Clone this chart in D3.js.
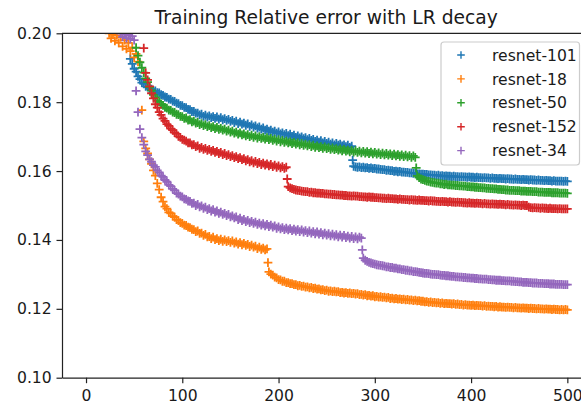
<!DOCTYPE html>
<html>
<head>
<meta charset="utf-8">
<script src="https://cdn.jsdelivr.net/npm/d3@7"></script>
<style>
html,body{margin:0;padding:0;background:#fff;}
svg{display:block;font-family:"DejaVu Sans",sans-serif;}
</style>
</head>
<body>
<svg id="chart" width="581" height="405"></svg>
<script>
// ---------- DATA ----------
// epochs 24, 26, ..., 500 (one logged value every 2 epochs), 239 entries
const epochs = d3.range(24, 501, 2);

const resnet101 = [
  null,null,null,null,null,null,null,null,null,null,null,.1926,.1911,.1897,.1889,.1875,.1867,.1857,.1853,.1846,
  .1844,.1839,.1838,.1833,.1833,.1828,.1827,.1822,.1820,.1815,.1814,.1809,.1808,.1803,.1802,.1797,.1796,.1791,.1790,.1785,
  .1784,.1779,.1778,.1773,.1773,.1768,.1768,.1763,.1765,.1759,.1762,.1757,.1760,.1755,.1758,.1753,.1757,.1751,.1755,.1749,
  .1752,.1747,.1750,.1744,.1747,.1741,.1745,.1738,.1742,.1736,.1739,.1733,.1737,.1730,.1734,.1728,.1731,.1725,.1728,.1722,
  .1725,.1719,.1722,.1716,.1719,.1713,.1716,.1710,.1714,.1708,.1711,.1706,.1709,.1703,.1707,.1701,.1704,.1698,.1702,.1696,
  .1699,.1694,.1697,.1691,.1695,.1689,.1692,.1686,.1690,.1684,.1688,.1682,.1686,.1680,.1684,.1678,.1682,.1676,.1680,.1675,
  .1678,.1673,.1676,.1671,.1675,.1669,.1672,.1614,.1612,.1611,.1612,.1610,.1611,.1609,.1610,.1608,.1609,.1607,.1608,.1606,
  .1606,.1605,.1604,.1604,.1602,.1603,.1601,.1601,.1599,.1600,.1598,.1599,.1597,.1597,.1596,.1596,.1595,.1595,.1593,.1594,
  .1592,.1592,.1591,.1591,.1590,.1590,.1589,.1589,.1588,.1588,.1587,.1588,.1586,.1587,.1585,.1586,.1585,.1585,.1584,.1585,
  .1584,.1584,.1583,.1584,.1583,.1583,.1582,.1583,.1582,.1582,.1581,.1582,.1581,.1581,.1580,.1581,.1580,.1580,.1579,.1580,
  .1579,.1579,.1578,.1579,.1578,.1578,.1577,.1578,.1577,.1577,.1576,.1577,.1576,.1576,.1575,.1576,.1575,.1575,.1574,.1575,
  .1574,.1574,.1573,.1574,.1573,.1573,.1572,.1573,.1572,.1572,.1571,.1572,.1571,.1571,.1571,.1571,.1570,.1571,.1570
];

const resnet18 = [
  .2000,.1985,.1998,.1978,.1994,.1972,.1988,.1962,.1980,.1955,.1972,.1948,.1958,.1930,.1940,.1918,null,.1777,.1686,.1666,
  .1651,.1634,.1621,.1602,.1587,.1564,.1546,.1524,.1511,.1497,.1491,.1480,.1477,.1469,.1466,.1459,.1456,.1450,.1448,.1443,
  .1442,.1437,.1436,.1431,.1430,.1424,.1426,.1419,.1420,.1413,.1416,.1409,.1410,.1404,.1408,.1401,.1404,.1398,.1402,.1396,
  .1400,.1395,.1398,.1393,.1397,.1391,.1394,.1388,.1392,.1386,.1390,.1384,.1387,.1381,.1385,.1379,.1382,.1375,.1379,.1373,
  .1376,.1371,.1374,.1307,.1301,.1298,.1292,.1290,.1285,.1284,.1280,.1280,.1276,.1276,.1273,.1273,.1270,.1270,.1267,.1268,
  .1265,.1266,.1263,.1264,.1261,.1262,.1259,.1260,.1257,.1258,.1255,.1256,.1253,.1254,.1251,.1252,.1250,.1251,.1249,.1250,
  .1247,.1248,.1246,.1247,.1245,.1246,.1244,.1245,.1243,.1244,.1241,.1242,.1240,.1241,.1238,.1239,.1237,.1238,.1235,.1236,
  .1234,.1235,.1233,.1234,.1232,.1233,.1230,.1231,.1229,.1230,.1228,.1229,.1227,.1228,.1226,.1227,.1225,.1226,.1224,.1225,
  .1223,.1224,.1222,.1222,.1220,.1221,.1219,.1220,.1218,.1219,.1217,.1218,.1216,.1217,.1215,.1216,.1215,.1215,.1214,.1215,
  .1213,.1214,.1212,.1213,.1211,.1212,.1211,.1211,.1210,.1211,.1209,.1210,.1209,.1209,.1208,.1209,.1207,.1208,.1207,.1207,
  .1206,.1207,.1205,.1206,.1205,.1205,.1204,.1205,.1204,.1204,.1203,.1204,.1203,.1203,.1202,.1203,.1202,.1202,.1201,.1202,
  .1201,.1201,.1200,.1201,.1200,.1200,.1199,.1200,.1199,.1199,.1198,.1199,.1198,.1198,.1197,.1198,.1197,.1198,.1197
];

const resnet50 = [
  null,null,null,null,null,null,null,null,null,null,null,null,null,null,.1958,.1935,.1916,.1900,.1886,.1869,
  .1858,.1844,.1834,.1821,.1814,.1805,.1801,.1794,.1791,.1785,.1783,.1777,.1776,.1771,.1770,.1765,.1764,.1759,.1758,.1753,
  .1754,.1748,.1749,.1743,.1745,.1739,.1741,.1735,.1738,.1732,.1735,.1729,.1732,.1726,.1729,.1723,.1727,.1721,.1724,.1719,
  .1722,.1716,.1719,.1713,.1716,.1710,.1713,.1707,.1711,.1705,.1708,.1702,.1706,.1700,.1704,.1698,.1702,.1696,.1700,.1695,
  .1698,.1693,.1697,.1691,.1695,.1689,.1693,.1687,.1691,.1685,.1689,.1683,.1687,.1682,.1685,.1680,.1683,.1678,.1682,.1676,
  .1680,.1675,.1678,.1673,.1677,.1671,.1675,.1669,.1673,.1668,.1671,.1666,.1670,.1665,.1668,.1663,.1667,.1662,.1665,.1661,
  .1664,.1659,.1663,.1658,.1661,.1656,.1660,.1655,.1659,.1654,.1658,.1653,.1657,.1652,.1656,.1651,.1655,.1650,.1654,.1649,
  .1653,.1648,.1652,.1647,.1651,.1646,.1650,.1645,.1649,.1644,.1648,.1643,.1647,.1642,.1646,.1641,.1645,.1640,.1644,.1640,
  .1586,.1581,.1577,.1575,.1573,.1571,.1570,.1568,.1567,.1566,.1565,.1565,.1563,.1563,.1561,.1562,.1560,.1560,.1559,.1559,
  .1558,.1558,.1557,.1557,.1556,.1556,.1555,.1555,.1554,.1554,.1553,.1553,.1552,.1552,.1551,.1551,.1550,.1550,.1549,.1549,
  .1548,.1548,.1547,.1547,.1546,.1546,.1545,.1545,.1544,.1544,.1544,.1543,.1543,.1543,.1542,.1542,.1542,.1541,.1541,.1541,
  .1540,.1540,.1540,.1539,.1539,.1539,.1538,.1538,.1538,.1538,.1537,.1537,.1537,.1537,.1536,.1536,.1536,.1536,.1535
];

const resnet152 = [
  null,null,null,null,null,null,null,null,null,null,null,null,null,null,null,null,null,null,.1957,.1885,
  .1865,.1846,.1826,.1811,.1794,.1784,.1771,.1763,.1752,.1746,.1736,.1731,.1723,.1719,.1712,.1708,.1701,.1698,.1692,.1690,
  .1687,.1682,.1682,.1676,.1677,.1671,.1673,.1666,.1669,.1663,.1666,.1660,.1663,.1657,.1660,.1654,.1657,.1651,.1654,.1648,
  .1651,.1645,.1648,.1642,.1645,.1639,.1642,.1636,.1639,.1633,.1636,.1630,.1633,.1627,.1630,.1624,.1628,.1622,.1625,.1619,
  .1623,.1617,.1621,.1615,.1619,.1613,.1617,.1611,.1615,.1609,.1613,.1608,.1611,.1555,.1551,.1549,.1547,.1545,.1544,.1543,
  .1542,.1541,.1540,.1540,.1538,.1539,.1537,.1537,.1536,.1536,.1535,.1535,.1534,.1534,.1533,.1533,.1532,.1532,.1531,.1531,
  .1530,.1530,.1529,.1529,.1528,.1528,.1527,.1528,.1527,.1527,.1526,.1526,.1525,.1525,.1524,.1525,.1524,.1524,.1523,.1523,
  .1522,.1522,.1521,.1521,.1520,.1521,.1520,.1520,.1519,.1519,.1518,.1519,.1518,.1518,.1517,.1517,.1516,.1517,.1516,.1516,
  .1515,.1516,.1515,.1515,.1514,.1514,.1513,.1514,.1513,.1513,.1512,.1512,.1511,.1512,.1511,.1511,.1510,.1511,.1510,.1510,
  .1509,.1510,.1509,.1509,.1508,.1508,.1507,.1508,.1507,.1507,.1506,.1507,.1506,.1506,.1505,.1506,.1505,.1505,.1504,.1505,
  .1504,.1504,.1503,.1504,.1503,.1503,.1502,.1503,.1502,.1502,.1501,.1502,.1501,.1501,.1500,.1501,.1500,.1500,.1495,.1494,
  .1493,.1494,.1493,.1493,.1492,.1493,.1492,.1492,.1491,.1492,.1491,.1491,.1491,.1490,.1491,.1490,.1490,.1490,.1490
];

const resnet34 = [
  null,null,null,null,null,null,.1999,.1990,.1997,.1986,.1995,.1984,.1992,.1980,.1833,.1771,.1722,.1697,.1677,.1657,
  .1646,.1634,.1627,.1617,.1612,.1602,.1596,.1587,.1583,.1574,.1569,.1560,.1556,.1548,.1544,.1536,.1533,.1527,.1525,.1519,
  .1518,.1513,.1512,.1506,.1507,.1500,.1503,.1496,.1499,.1492,.1495,.1488,.1491,.1484,.1488,.1481,.1484,.1477,.1481,.1474,
  .1477,.1471,.1474,.1467,.1470,.1464,.1467,.1459,.1463,.1456,.1460,.1453,.1457,.1450,.1454,.1448,.1452,.1445,.1449,.1443,
  .1447,.1441,.1445,.1439,.1443,.1437,.1441,.1434,.1438,.1432,.1436,.1430,.1434,.1429,.1433,.1427,.1431,.1426,.1430,.1424,
  .1429,.1423,.1427,.1421,.1426,.1420,.1424,.1418,.1423,.1417,.1421,.1415,.1420,.1414,.1418,.1412,.1417,.1411,.1415,.1409,
  .1414,.1408,.1413,.1407,.1411,.1405,.1410,.1404,.1409,.1403,.1408,.1405,.1347,.1341,.1338,.1335,.1333,.1331,.1330,.1328,
  .1327,.1326,.1325,.1324,.1322,.1322,.1320,.1320,.1318,.1318,.1316,.1316,.1314,.1314,.1312,.1312,.1310,.1310,.1308,.1308,
  .1307,.1306,.1305,.1304,.1303,.1303,.1302,.1301,.1300,.1300,.1299,.1299,.1298,.1297,.1297,.1296,.1296,.1295,.1294,.1294,
  .1293,.1293,.1292,.1292,.1291,.1291,.1290,.1290,.1289,.1289,.1288,.1288,.1287,.1287,.1286,.1286,.1286,.1285,.1285,.1284,
  .1284,.1283,.1283,.1283,.1282,.1282,.1281,.1281,.1281,.1280,.1280,.1279,.1279,.1278,.1278,.1277,.1277,.1277,.1276,.1276,
  .1275,.1275,.1275,.1274,.1274,.1274,.1273,.1273,.1273,.1272,.1272,.1272,.1271,.1271,.1271,.1271,.1270,.1270,.1270
];

// single values logged at the learning-rate drop of each model
const dropSeries = ["resnet-18", "resnet-152", "resnet-101", "resnet-34", "resnet-50"];
const dropEpochs = [189, 209, 277, 287, 343];
const dropValues = [.1334, .1577, .1632, .1371, .1609];

const seriesNames = ["resnet-101", "resnet-18", "resnet-50", "resnet-152", "resnet-34"];
const seriesValues = [resnet101, resnet18, resnet50, resnet152, resnet34];
const seriesColors = ["#1f77b4", "#ff7f0e", "#2ca02c", "#d62728", "#9467bd"];
const xTicks = [0, 100, 200, 300, 400, 500];
const yTicks = [0.10, 0.12, 0.14, 0.16, 0.18, 0.20];
const titleText = "Training Relative error with LR decay";

// ---------- DRAWING ----------
(function () {
  const pLeft = 62, pRight = 590.4, pTop = 33.3, pBottom = 377.7;
  const svg = d3.select("#chart");

  const x = d3.scaleLinear().domain([-24.95, 523.95]).range([pLeft, pRight]);
  const y = d3.scaleLinear().domain([0.10, 0.20]).range([pBottom, pTop]);

  svg.append("defs").append("clipPath").attr("id", "plotclip")
    .append("rect").attr("x", pLeft).attr("y", pTop)
    .attr("width", pRight - pLeft).attr("height", pBottom - pTop);

  const plot = svg.append("g").attr("clip-path", "url(#plotclip)");
  const plus = "M-4.4,0H4.4M0,-4.4V4.4";

  seriesValues.forEach((vals, i) => {
    const pts = epochs.map((e, j) => ({e: e, v: vals[j]})).filter(d => d.v !== null && d.v !== undefined);
    dropSeries.forEach((s, k) => {
      if (s === seriesNames[i]) pts.push({e: dropEpochs[k], v: dropValues[k]});
    });
    plot.append("g").selectAll("path").data(pts).join("path")
      .attr("d", plus)
      .attr("transform", d => `translate(${x(d.e)},${y(d.v)})`)
      .attr("stroke", seriesColors[i])
      .attr("stroke-width", 1.8)
      .attr("fill", "none");
  });

  const fontSize = 15.6;
  const xAxis = svg.append("g").attr("transform", `translate(0,${pBottom})`)
    .call(d3.axisBottom(x).tickValues(xTicks).tickSize(5.5).tickSizeOuter(0).tickPadding(7));
  const yAxis = svg.append("g").attr("transform", `translate(${pLeft},0)`)
    .call(d3.axisLeft(y).tickValues(yTicks).tickFormat(d3.format(".2f")).tickSize(5.5).tickSizeOuter(0).tickPadding(4.8));

  [xAxis, yAxis].forEach(a => {
    a.selectAll("text").attr("font-size", fontSize).attr("fill", "#1a1a1a").attr("font-family", "DejaVu Sans");
    a.selectAll("line").attr("stroke", "#222").attr("stroke-width", 1.2);
    a.select(".domain").attr("stroke", "#222").attr("stroke-width", 1.2);
  });
  svg.append("line").attr("x1", pLeft).attr("x2", pRight).attr("y1", pTop).attr("y2", pTop)
    .attr("stroke", "#222").attr("stroke-width", 1.2);

  svg.append("text").attr("x", (pLeft + pRight) / 2).attr("y", 24)
    .attr("text-anchor", "middle").attr("font-size", 18.7).attr("fill", "#1a1a1a")
    .text(titleText);

  const lg = svg.append("g");
  lg.append("rect").attr("x", 441).attr("y", 42).attr("width", 138.5).attr("height", 123)
    .attr("rx", 3).attr("fill", "#fff").attr("fill-opacity", 0.8)
    .attr("stroke", "#ccc").attr("stroke-width", 1.2);
  seriesNames.forEach((name, i) => {
    const cy = 55 + i * 23.9;
    lg.append("path").attr("d", "M-3.8,0H3.8M0,-3.8V3.8")
      .attr("transform", `translate(461,${cy})`)
      .attr("stroke", seriesColors[i]).attr("stroke-width", 1.4).attr("fill", "none");
    lg.append("text").attr("x", 492).attr("y", cy).attr("dy", "0.36em")
      .attr("font-size", fontSize).attr("fill", "#1a1a1a").text(name);
  });
})();
</script>
</body>
</html>
